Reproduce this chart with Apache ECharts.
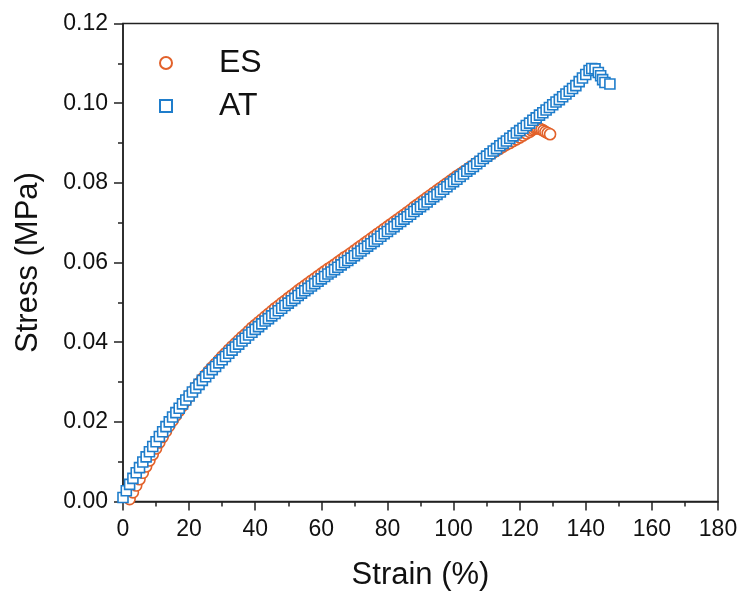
<!DOCTYPE html>
<html>
<head>
<meta charset="utf-8">
<script src="https://cdn.jsdelivr.net/npm/echarts@6/dist/echarts.min.js"></script>
<style>
  html, body { margin: 0; padding: 0; background: #fff; }
  #chart { width: 743px; height: 596px; }
</style>
</head>
<body>
<div id="chart"></div>
<script>
// Tensile test curves: stress vs strain for two samples
const seriesNames = ['ES', 'AT'];

const esStrain = [
  2, 3, 4, 5, 6, 7, 8, 9, 10, 11, 12, 13, 14, 15, 16, 17, 18, 19, 20,
  21, 22, 23, 24, 25, 26, 27, 28, 29, 30, 31, 32, 33, 34, 35, 36, 37, 38, 39, 40,
  41, 42, 43, 44, 45, 46, 47, 48, 49, 50, 51, 52, 53, 54, 55, 56, 57, 58, 59, 60,
  61, 62, 63, 64, 65, 66, 67, 68, 69, 70, 71, 72, 73, 74, 75, 76, 77, 78, 79, 80,
  81, 82, 83, 84, 85, 86, 87, 88, 89, 90, 91, 92, 93, 94, 95, 96, 97, 98, 99, 100,
  101, 102, 103, 104, 105, 106, 107, 108, 109, 110, 111, 112, 113, 114, 115, 116, 117, 118, 119, 120,
  121, 122, 123, 123.6, 124.2, 124.8, 125.4, 126.0, 126.6, 127.2, 127.8, 128.5, 129.2
];
const esStress = [
  0.0006, 0.0023, 0.0040, 0.0056, 0.0072, 0.0088, 0.0103, 0.0118, 0.0133, 0.0148, 0.0162, 0.0176, 0.0190, 0.0203, 0.0216, 0.0228, 0.0240, 0.0252, 0.0264,
  0.0275, 0.0286, 0.0297, 0.0308, 0.0318, 0.0328, 0.0337, 0.0346, 0.0355, 0.0364, 0.0372, 0.0381, 0.0389, 0.0397, 0.0405, 0.0413, 0.0420, 0.0428, 0.0436, 0.0443,
  0.0450, 0.0457, 0.0464, 0.0471, 0.0478, 0.0485, 0.0491, 0.0498, 0.0504, 0.0511, 0.0517, 0.0523, 0.0530, 0.0536, 0.0542, 0.0548, 0.0554, 0.0560, 0.0566, 0.0572,
  0.0578, 0.0584, 0.0589, 0.0595, 0.0601, 0.0607, 0.0613, 0.0618, 0.0624, 0.0630, 0.0636, 0.0642, 0.0648, 0.0654, 0.0660, 0.0666, 0.0672, 0.0678, 0.0684, 0.0690,
  0.0696, 0.0702, 0.0708, 0.0714, 0.0720, 0.0726, 0.0732, 0.0739, 0.0745, 0.0751, 0.0757, 0.0763, 0.0769, 0.0775, 0.0781, 0.0787, 0.0793, 0.0799, 0.0805, 0.0811,
  0.0817, 0.0822, 0.0828, 0.0833, 0.0839, 0.0844, 0.0850, 0.0855, 0.0861, 0.0866, 0.0871, 0.0876, 0.0881, 0.0886, 0.0891, 0.0896, 0.0900, 0.0905, 0.0909, 0.0914,
  0.0919, 0.0924, 0.0928, 0.0932, 0.0935, 0.0937, 0.0937, 0.0936, 0.0934, 0.0931, 0.0928, 0.0925, 0.0922
];

const atStrain = [
  0, 1, 2, 3, 4, 5, 6, 7, 8, 9, 10, 11, 12, 13, 14, 15, 16, 17, 18, 19, 20,
  21, 22, 23, 24, 25, 26, 27, 28, 29, 30, 31, 32, 33, 34, 35, 36, 37, 38, 39, 40,
  41, 42, 43, 44, 45, 46, 47, 48, 49, 50, 51, 52, 53, 54, 55, 56, 57, 58, 59, 60,
  61, 62, 63, 64, 65, 66, 67, 68, 69, 70, 71, 72, 73, 74, 75, 76, 77, 78, 79, 80,
  81, 82, 83, 84, 85, 86, 87, 88, 89, 90, 91, 92, 93, 94, 95, 96, 97, 98, 99, 100,
  101, 102, 103, 104, 105, 106, 107, 108, 109, 110, 111, 112, 113, 114, 115, 116, 117, 118, 119, 120,
  121, 122, 123, 124, 125, 126, 127, 128, 129, 130, 131, 132, 133, 134, 135, 136, 137, 138, 139, 140,
  141, 141.8, 142.8, 143.8, 144.5, 145.1, 145.8, 147.3
];
const atStress = [
  0.0010, 0.0027, 0.0043, 0.0058, 0.0072, 0.0085, 0.0099, 0.0112, 0.0125, 0.0138, 0.0150, 0.0163, 0.0175, 0.0188, 0.0200, 0.0212, 0.0223, 0.0234, 0.0245, 0.0255, 0.0265,
  0.0275, 0.0285, 0.0294, 0.0304, 0.0313, 0.0322, 0.0331, 0.0339, 0.0348, 0.0356, 0.0364, 0.0372, 0.0380, 0.0388, 0.0395, 0.0403, 0.0410, 0.0418, 0.0425, 0.0432,
  0.0439, 0.0446, 0.0453, 0.0459, 0.0466, 0.0472, 0.0479, 0.0485, 0.0492, 0.0498, 0.0504, 0.0510, 0.0517, 0.0523, 0.0529, 0.0535, 0.0541, 0.0547, 0.0553, 0.0559,
  0.0565, 0.0571, 0.0576, 0.0582, 0.0588, 0.0594, 0.0600, 0.0605, 0.0611, 0.0617, 0.0623, 0.0629, 0.0635, 0.0641, 0.0647, 0.0653, 0.0659, 0.0666, 0.0672, 0.0678,
  0.0684, 0.0690, 0.0697, 0.0703, 0.0709, 0.0715, 0.0721, 0.0728, 0.0734, 0.0740, 0.0746, 0.0752, 0.0759, 0.0765, 0.0771, 0.0777, 0.0784, 0.0790, 0.0797, 0.0803,
  0.0809, 0.0816, 0.0822, 0.0829, 0.0835, 0.0841, 0.0848, 0.0854, 0.0861, 0.0867, 0.0873, 0.0880, 0.0886, 0.0893, 0.0899, 0.0905, 0.0912, 0.0918, 0.0925, 0.0931,
  0.0937, 0.0944, 0.0950, 0.0957, 0.0963, 0.0970, 0.0976, 0.0983, 0.0989, 0.0996, 0.1003, 0.1009, 0.1016, 0.1023, 0.1030, 0.1037, 0.1044, 0.1054, 0.1063, 0.1072,
  0.1082, 0.1087, 0.1086, 0.1077, 0.1069, 0.1059, 0.1052, 0.1048
];

const xTicks = { min: 0, max: 180, interval: 20 };
const yTicks = { min: 0, max: 0.12, interval: 0.02 };

const pairs = (xs, ys) => xs.map((x, i) => [x, ys[i]]);

const FONT = '"Liberation Sans", Arial, Helvetica, sans-serif';
const AXIS_COLOR = '#222';
const ES_COLOR = '#E2612A';
const AT_COLOR = '#1F7DCB';

const axisCommon = {
  axisLine: { show: true, lineStyle: { color: AXIS_COLOR, width: 1.5 } },
  axisTick: { show: true, inside: false, length: 9, lineStyle: { color: AXIS_COLOR, width: 1.5 } },
  minorTick: { show: true, splitNumber: 2, length: 5, lineStyle: { color: AXIS_COLOR, width: 1.5 } },
  splitLine: { show: false },
  axisLabel: { color: '#111', fontSize: 23, fontFamily: FONT, margin: 15 },
  nameLocation: 'middle',
  nameTextStyle: { color: '#111', fontSize: 31, fontFamily: FONT }
};

const chart = echarts.init(document.getElementById('chart'), null, { renderer: 'canvas' });

chart.setOption({
  backgroundColor: '#fff',
  animation: false,
  grid: {
    left: 123, right: 25, top: 23.5, bottom: 94.5,
    show: true, borderColor: AXIS_COLOR, borderWidth: 1.5, backgroundColor: 'transparent'
  },
  legend: {
    orient: 'vertical',
    left: 154,
    top: 42,
    itemWidth: 12,
    itemHeight: 12,
    itemGap: 11,
    data: seriesNames,
    textStyle: { color: '#111', fontSize: 32, fontFamily: FONT, lineHeight: 32, padding: [0, 0, 0, 42] }
  },
  xAxis: Object.assign({}, axisCommon, {
    type: 'value',
    min: xTicks.min, max: xTicks.max, interval: xTicks.interval,
    name: 'Strain (%)',
    nameGap: 58,
    axisLabel: Object.assign({}, axisCommon.axisLabel, { margin: 17 })
  }),
  yAxis: Object.assign({}, axisCommon, {
    type: 'value',
    min: yTicks.min, max: yTicks.max, interval: yTicks.interval,
    name: 'Stress (MPa)',
    nameGap: 79,
    axisLabel: Object.assign({}, axisCommon.axisLabel, {
      formatter: v => v.toFixed(2)
    })
  }),
  series: [
    {
      name: seriesNames[0],
      type: 'scatter',
      symbol: 'circle',
      symbolSize: 11,
      data: pairs(esStrain, esStress),
      itemStyle: { color: '#fff', borderColor: ES_COLOR, borderWidth: 1.6, opacity: 1 },
      clip: false,
      z: 2
    },
    {
      name: seriesNames[1],
      type: 'scatter',
      symbol: 'rect',
      symbolSize: 10,
      data: pairs(atStrain, atStress),
      itemStyle: { color: '#fff', borderColor: AT_COLOR, borderWidth: 1.6, opacity: 1 },
      clip: false,
      z: 3
    }
  ]
});
</script>
</body>
</html>
